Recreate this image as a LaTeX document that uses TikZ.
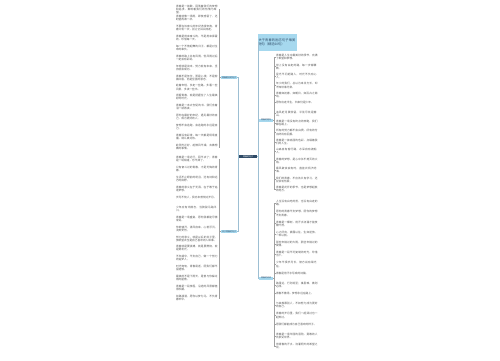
\documentclass[tikz,border=0pt]{standalone}
\usepackage{fontspec}
\newfontfamily\cjk{Noto Sans CJK SC}
\XeTeXlinebreaklocale "zh"
\XeTeXlinebreakskip = 0pt plus 1pt
\usetikzlibrary{positioning}
\definecolor{rootblue}{HTML}{2E4A66}
\definecolor{branchblue}{HTML}{A6D8EE}
\definecolor{trunkline}{HTML}{9DBFD3}
\definecolor{leafgray}{HTML}{A0A0A0}
\definecolor{leaftext}{HTML}{555555}
\tikzset{
  rootnode/.style={fill=rootblue, text=white, minimum width=18pt, minimum height=3.4pt,
    inner sep=0pt, font=\cjk\fontsize{2}{2.4}\selectfont},
  branch/.style={fill=branchblue, text=rootblue, minimum width=14pt, minimum height=3pt,
    inner sep=0.3pt, font=\cjk\fontsize{2}{2.4}\selectfont},
  titlebox/.style={branch, text width=38pt, align=left, minimum height=17pt,
    font=\cjk\fontsize{3.2}{4.2}\selectfont},
  leaf/.style={text=leaftext, text width=42pt, align=left, inner sep=0.3pt,
    font=\cjk\fontsize{2.7}{3.1}\selectfont},
  trunk/.style={draw=trunkline, line width=0.5pt},
  leafbar/.style={draw=leafgray, line width=0.8pt}
}
\begin{document}
\begin{tikzpicture}[x=1pt,y=-1pt]
  \useasboundingbox[fill=white] (0,0) rectangle (500,360);
  % root and branches
  \node[rootnode] (root) at (248,156.5) {青春的句子};
  \node[branch,minimum width=16pt] (bl1) at (229,77.5) {青春励志的句子};
  \node[branch,minimum width=16pt] (bl2) at (229,231.5) {关于青春的句子};
  \node[titlebox,anchor=west] (br1) at (258,42) {关于青春的励志句子唯美短句（精选60句）};
  \node[branch,anchor=west] (br2) at (259,120) {青春的短句};
  \node[branch,anchor=west] (br3) at (259,278) {青春的说说};
  \foreach \b in {bl1,bl2}
    \draw[trunk] (root.west) -- ++(-1,0) |- (\b.east);
  \foreach \b in {br1,br2,br3}
    \draw[trunk] (root.east) -- ++(1,0) |- (\b.west);
  % left leaves
  \foreach \t [count=\i] in {
    青春是一首歌，回荡着我们的梦想和追求，奏响着我们的热情与希望。,
    青春就像一场雨，即使感冒了，还盼望再淋一次。,
    不要在该奋斗的年纪选择安逸，青春只有一次，别让它白白流走。,
    青春是用来奋斗的，不是用来挥霍的，珍惜每一天。,
    每一个不曾起舞的日子，都是对生命的辜负。,
    青春的路上总有风雨，但风雨过后一定会有彩虹。,
    年轻就是资本，努力就有未来，坚持就会成功。,
    青春不是年华，而是心境；不是粉面红唇，而是坚强的意志。,
    趁着年轻，多走一些路，多看一些风景，多读一些书。,
    把握青春，就是把握住了人生最美好的时光。,
    青春是一本太仓促的书，我们含着泪一读再读。,
    愿你在最好的年纪，遇见最好的自己，成为更好的人。,
    梦想不会逃跑，会逃跑的永远是自己。,
    青春没有彩排，每一天都是现场直播，请认真对待。,
    趁阳光正好，趁微风不燥，去做想做的事情。}{
    \pgfmathsetmacro\y{5+(\i-1)*9.9}
    \node[leaf,anchor=north east] (a\i) at (218.5,\y) {\t};
    \draw[leafbar] (bl1.west) -- ++(-1,0) |- (a\i.east);
  }
  \foreach \t [count=\i] in {
    青春是一场远行，回不去了；青春是一场相逢，忘不掉了。,
    只有奋斗过的青春，才是无悔的青春。,
    生活不止眼前的苟且，还有诗和远方的田野。,
    青春的意义在于无畏，在于敢于追逐梦想。,
    岁月不饶人，我亦未曾饶过岁月。,
    少年应有鸿鹄志，当骑骏马踏平川。,
    青春是一场盛宴，愿你我都能尽情享受。,
    你若盛开，清风自来，心若浮沉，浅笑安然。,
    努力的意义，就是以后的日子里，放眼望去全是自己喜欢的人和事。,
    青春就是要拼搏，就是要燃烧，就是要发光。,
    不负韶华，不负自己，做一个努力的追梦人。,
    时光匆匆，青春易逝，愿我们都不留遗憾。,
    最美的不是下雨天，是曾与你躲过雨的屋檐。,
    青春是一段旅程，沿途的风景都值得珍藏。,
    前路漫漫，愿你以梦为马，不负青春年华。}{
    \pgfmathsetmacro\y{156+(\i-1)*9.9}
    \node[leaf,anchor=north east] (b\i) at (218.5,\y) {\t};
    \draw[leafbar] (bl2.west) -- ++(-1,0) |- (b\i.east);
  }
  % right leaves
  \foreach \t [count=\i] in {
    青春是人生中最美好的季节，充满了希望和梦想。,
    世上没有白走的路，每一步都算数。,
    星光不问赶路人，时光不负有心人。,
    年少的我们，总以为来日方长，却不知世事无常。,
    青春如初春，如朝日，如百卉之萌动。,
    愿你出走半生，归来仍是少年。,
    追风赶月莫停留，平芜尽处是春山。,
    青春是一场没有终点的奔跑，我们都在路上。,
    所有的努力都不会白费，所有的付出终将有回报。,
    青春是一抹亮丽的色彩，点缀着我们的人生。,
    山高自有客行路，水深自有渡船人。,
    青春的梦想，是心中永不熄灭的火焰。,
    乘风破浪会有时，直挂云帆济沧海。,
    我们的青春，不应该只有学习，还应该有热爱。,
    青春是花开的季节，也是梦想起航的地方。}{
    \pgfmathsetmacro\y{54+(\i-1)*9.4}
    \node[leaf,anchor=north west] (c\i) at (275.5,\y) {\t};
    \draw[leafbar] (br2.east) -- ++(1,0) |- (c\i.west);
  }
  \foreach \t [count=\i] in {
    人生没有白吃的苦，也没有白走的路。,
    愿你的青春不负梦想，愿你的梦想不负青春。,
    青春是一棵树，用汗水浇灌才能枝繁叶茂。,
    心之所向，素履以往，生如逆旅，一苇以航。,
    那些年错过的大雨，那些年错过的爱情。,
    青春是一段不可复制的时光，珍惜当下。,
    少年不惧岁月长，彼方尚有荣光在。,
    青春是用汗水写成的诗篇。,
    路虽远，行则将至；事虽难，做则必成。,
    青春不散场，梦想永远在路上。,
    与其羡慕别人，不如努力成为更好的自己。,
    青春的岁月里，我们一起哭过也一起笑过。,
    愿我们都能成为自己喜欢的样子。,
    青春是一场华丽的冒险，勇敢的人先享受世界。,
    用青春的汗水，浇灌明天的希望之花。}{
    \pgfmathsetmacro\y{200+(\i-1)*10.2}
    \node[leaf,anchor=north west] (d\i) at (275.5,\y) {\t};
    \draw[leafbar] (br3.east) -- ++(1,0) |- (d\i.west);
  }
\end{tikzpicture}
\end{document}
